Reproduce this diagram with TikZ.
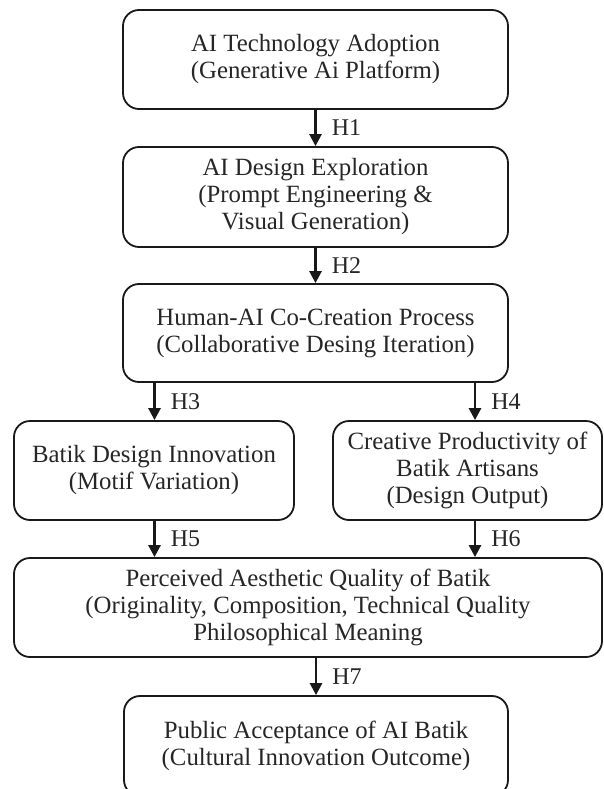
\documentclass[tikz,border=0pt]{standalone}
\usepackage{fontspec}
\setmainfont{Liberation Serif}
\usetikzlibrary{arrows.meta}

\tikzset{
  stagebox/.style={draw=black!90, line width=1.8pt, rounded corners=16pt,
    align=center, inner sep=0pt, text=black!85,
    font=\fontsize{24.8}{27}\selectfont},
  hyparrow/.style={line width=2.6pt, draw=black!90,
    -{Triangle[length=12pt,width=12pt]}},
  hyplabel/.style={right, inner sep=0pt, xshift=15pt, text=black!85,
    font=\fontsize{24}{26}\selectfont}
}

\begin{document}
\begin{tikzpicture}[x=1pt,y=-1pt]
    \useasboundingbox[fill=white] (0,0) rectangle (603,789);

    % stages
    \node[stagebox, minimum width=385, minimum height=99] at (315.5,59.5) (Adopt)
      {AI Technology Adoption\\(Generative Ai Platform)};
    \node[stagebox, minimum width=385, minimum height=100] at (315.5,197) (Explore)
      {AI Design Exploration\\(Prompt Engineering \&\\Visual Generation)};
    \node[stagebox, minimum width=385, minimum height=98] at (315.5,333) (CoCreate)
      {Human-AI Co-Creation Process\\(Collaborative Desing Iteration)};
    \node[stagebox, minimum width=280, minimum height=99] at (154,470.5) (Innov)
      {Batik Design Innovation\\(Motif Variation)};
    \node[stagebox, minimum width=269, minimum height=99] at (467.5,470.5) (Prod)
      {Creative Productivity of\\Batik Artisans\\(Design Output)};
    \node[stagebox, minimum width=588, minimum height=99] at (308,607.5) (Aesth)
      {Perceived Aesthetic Quality of Batik\\(Originality, Composition, Technical Quality\\Philosophical Meaning};
    \node[stagebox, minimum width=384, minimum height=100] at (316,746) (Accept)
      {Public Acceptance of AI Batik\\(Cultural Innovation Outcome)};

    % columns of the split arrows
    \coordinate (leftcol) at (154.5,0);
    \coordinate (rightcol) at (475,0);

    % hypotheses
    \draw[hyparrow] (Adopt) -- node[hyplabel] {H1} (Explore);
    \draw[hyparrow] (Explore) -- node[hyplabel] {H2} (CoCreate);
    \draw[hyparrow] (CoCreate.south -| leftcol) -- node[hyplabel] {H3} (Innov.north -| leftcol);
    \draw[hyparrow] (CoCreate.south -| rightcol) -- node[hyplabel] {H4} (Prod.north -| rightcol);
    \draw[hyparrow] (Innov.south -| leftcol) -- node[hyplabel] {H5} (Aesth.north -| leftcol);
    \draw[hyparrow] (Prod.south -| rightcol) -- node[hyplabel] {H6} (Aesth.north -| rightcol);
    \draw[hyparrow] (Aesth.south -| Accept.north) -- node[hyplabel] {H7} (Accept);
  \end{tikzpicture}
\end{document}
